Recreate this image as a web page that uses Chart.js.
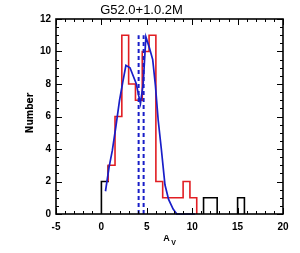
<!DOCTYPE html>
<html>
<head>
<meta charset="utf-8">
<script src="https://cdn.jsdelivr.net/npm/chart.js@4"></script>
<style>
html,body{margin:0;padding:0;background:#fff;}
#wrap{width:300px;height:253px;}
</style>
</head>
<body>
<div id="wrap"><canvas id="c" width="300" height="253"></canvas></div>
<script>
// ---- data ----
const titleText = "G52.0+1.0.2M";
const xTickLabels = [-5, 0, 5, 10, 15, 20];
const yTickLabels = [0, 2, 4, 6, 8, 10, 12];
const binWidth = 0.75;
// red histogram (left edges, counts)
const redLeft   = [0.75, 1.5, 2.25, 3.0, 3.75, 4.5, 5.25, 6.0, 6.75, 7.5, 8.25, 9.0, 9.75];
const redCounts = [3, 6, 11, 8, 7, 10, 11, 2, 1, 1, 1, 2, 1];
// black histogram (left edges, counts)
const blackLeft   = [0.0, 11.25, 12.0, 15.0];
const blackCounts = [2, 1, 1, 1];
// blue fitted curve
const blueX = [0.45, 0.85, 1.2, 1.6, 2.0, 2.35, 2.7, 3.15, 3.85, 4.1, 4.3, 4.6, 4.9, 5.3, 5.65, 5.95, 6.25, 6.6, 7.0, 7.4, 7.9, 8.3, 10.3];
const blueY = [1.4, 2.9, 3.9, 5.4, 7.0, 8.1, 9.15, 9.0, 8.0, 7.3, 6.8, 8.0, 10.9, 10.2, 9.5, 7.9, 5.8, 4.0, 1.8, 0.9, 0.3, 0.0, 0.0];
// dotted vertical markers
const markerX = [4.1, 4.65];
const markerTop = 11;

// ---- build step outlines from bins ----
function countEndingAt(left, counts, edge) {
  for (let i = 0; i < left.length; i++) if (Math.abs(left[i] + binWidth - edge) < 1e-6) return counts[i];
  return 0;
}
function countStartingAt(left, counts, edge) {
  for (let i = 0; i < left.length; i++) if (Math.abs(left[i] - edge) < 1e-6) return counts[i];
  return 0;
}
function stepPoints(left, counts, oLeft, oCounts) {
  const pts = [];
  for (let i = 0; i < left.length; i++) {
    const L = left[i], R = L + binWidth;
    const startRun = i === 0 || Math.abs(left[i - 1] + binWidth - L) > 1e-6;
    if (startRun) {
      if (i > 0) pts.push({x: null, y: null});
      pts.push({x: L, y: countEndingAt(oLeft, oCounts, L)});
    }
    pts.push({x: L, y: counts[i]});
    pts.push({x: R, y: counts[i]});
    const endRun = i === left.length - 1 || Math.abs(left[i + 1] - R) > 1e-6;
    if (endRun) pts.push({x: R, y: countStartingAt(oLeft, oCounts, R)});
  }
  return pts;
}

const redPts = stepPoints(redLeft, redCounts, blackLeft, blackCounts);
const blackPts = stepPoints(blackLeft, blackCounts, redLeft, redCounts);
const bluePts = blueX.map((x, i) => ({x: x, y: blueY[i]}));

const BLUE = 'rgb(25,30,200)';
const RED = 'rgb(225,30,35)';

const datasets = [
  {data: bluePts, borderColor: BLUE, borderWidth: 1.7, order: 0},
  {data: [{x: markerX[0], y: 0}, {x: markerX[0], y: markerTop}], borderColor: BLUE, borderWidth: 2, borderDash: [4, 3], order: 1},
  {data: [{x: markerX[1], y: 0}, {x: markerX[1], y: markerTop}], borderColor: BLUE, borderWidth: 2, borderDash: [4, 3], order: 1},
  {data: redPts, borderColor: RED, borderWidth: 1.6, order: 2},
  {data: blackPts, borderColor: '#000', borderWidth: 1.6, order: 3}
].map(d => Object.assign({type: 'line', pointRadius: 0, tension: 0, fill: false, spanGaps: false, clip: false}, d));

const NARROW = '"Liberation Sans Narrow", "DejaVu Sans Condensed", "Liberation Sans", Arial, sans-serif';

const frameAndTicks = {
  id: 'frameAndTicks',
  afterDraw(chart) {
    const ctx = chart.ctx, a = chart.chartArea;
    const xs = chart.scales.x, ys = chart.scales.y;
    ctx.save();
    ctx.strokeStyle = '#000';
    ctx.lineWidth = 1.6;
    ctx.strokeRect(a.left, a.top, a.right - a.left, a.bottom - a.top);
    ctx.lineWidth = 1;
    ctx.beginPath();
    for (let v = xs.min; v <= xs.max + 1e-9; v += 1) {
      const p = Math.round(xs.getPixelForValue(v)) + 0.5;
      const len = (Math.abs(v % 5) < 1e-9) ? 6 : 3;
      ctx.moveTo(p, a.bottom); ctx.lineTo(p, a.bottom - len);
      ctx.moveTo(p, a.top); ctx.lineTo(p, a.top + len);
    }
    for (let v = ys.min; v <= ys.max + 1e-9; v += 0.5) {
      const p = Math.round(ys.getPixelForValue(v)) + 0.5;
      const len = (Math.abs(v % 2) < 1e-9) ? 6 : 3;
      ctx.moveTo(a.left, p); ctx.lineTo(a.left + len, p);
      ctx.moveTo(a.right, p); ctx.lineTo(a.right - len, p);
    }
    ctx.stroke();
    // axis titles
    ctx.fillStyle = '#000';
    ctx.textAlign = 'center';
    ctx.textBaseline = 'middle';
    ctx.save();
    ctx.translate(30, 113);
    ctx.rotate(-Math.PI / 2);
    ctx.font = 'bold 10px ' + NARROW;
    ctx.fillText('Number', 0, 0);
    ctx.restore();
    const cx = (a.left + a.right) / 2;
    ctx.font = 'bold 9px "Liberation Sans", Arial, sans-serif';
    ctx.fillText('A', cx - 3, 239);
    ctx.font = 'bold 7px "Liberation Sans", Arial, sans-serif';
    ctx.fillText('V', cx + 4, 243);
    ctx.restore();
  }
};

const tickFont = {family: '"Liberation Sans", Arial, sans-serif', size: 10, weight: 'bold'};

new Chart(document.getElementById('c'), {
  type: 'line',
  data: {datasets: datasets},
  options: {
    responsive: false,
    devicePixelRatio: 1,
    animation: false,
    layout: {padding: {top: 0, right: 17, bottom: 0, left: 0}},
    plugins: {
      legend: {display: false},
      tooltip: {enabled: false},
      title: {
        display: true,
        text: titleText,
        color: '#000',
        font: {family: '"Liberation Sans", Arial, sans-serif', size: 13, weight: 'normal', lineHeight: 1.2},
        padding: {top: 2.2, bottom: 1.2}
      }
    },
    scales: {
      x: {
        type: 'linear',
        min: xTickLabels[0],
        max: xTickLabels[xTickLabels.length - 1],
        afterBuildTicks(s) { s.ticks = xTickLabels.map(v => ({value: v})); },
        afterFit(s) { s.height = 39; },
        grid: {display: false, drawTicks: false},
        border: {display: false},
        ticks: {color: '#000', font: tickFont, padding: 7, maxRotation: 0, autoSkip: false}
      },
      y: {
        type: 'linear',
        min: yTickLabels[0],
        max: yTickLabels[yTickLabels.length - 1],
        afterBuildTicks(s) { s.ticks = yTickLabels.map(v => ({value: v})); },
        afterFit(s) { s.width = 56; },
        grid: {display: false, drawTicks: false},
        border: {display: false},
        ticks: {color: '#000', font: tickFont, padding: 5, autoSkip: false}
      }
    }
  },
  plugins: [frameAndTicks]
});
</script>
</body>
</html>
